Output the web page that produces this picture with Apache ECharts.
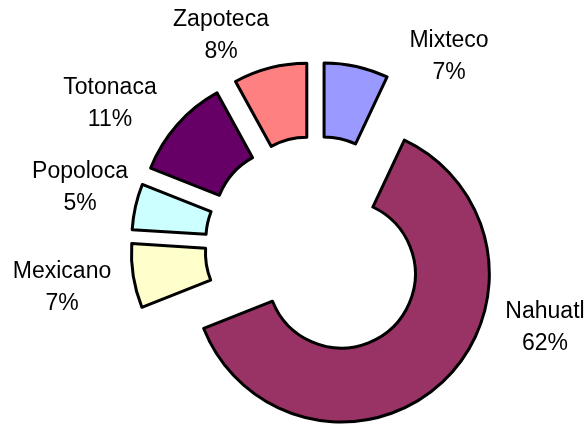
<!DOCTYPE html>
<html>
<head>
<meta charset="utf-8">
<script src="https://cdn.jsdelivr.net/npm/echarts@6/dist/echarts.min.js"></script>
<style>
	html, body { margin: 0; padding: 0; background: #fff; }
	#main { width: 588px; height: 425px; }
</style>
</head>
<body>
<div id="main"></div>
<script>
// 数据
var names = ['Mixteco', 'Nahuatl', 'Mexicano', 'Popoloca', 'Totonaca', 'Zapoteca'];
var values = [7, 62, 7, 5, 11, 8];

// 颜色 / 标签位置 (样式)
var colorList = ['#9999FF', '#993366', '#FFFFCC', '#CCFFFF', '#660066', '#FF8080'];
var labelPos = [[449, 57], [545, 328], [62, 288], [80, 188], [110, 104], [221, 36]];

var myChart = echarts.init(document.getElementById('main'));

var total = values.reduce(function(a, b) { return a + b; }, 0);

var pieData = names.map(function(n, i) {
	return {
		name: n,
		value: values[i],
		selected: true,
		itemStyle: { color: colorList[i] }
	};
});

// 标签: 名称 + 百分比, 手动放置 (类似原图)
var labels = names.map(function(n, i) {
	return {
		type: 'text',
		x: labelPos[i][0],
		y: labelPos[i][1],
		silent: true,
		style: {
			text: n + '\n' + Math.round(values[i] / total * 100) + '%',
			fill: '#000',
			fontFamily: 'Liberation Sans, Arial, sans-serif',
			fontSize: 23,
			lineHeight: 32,
			align: 'center',
			verticalAlign: 'middle'
		}
	};
});

var option = {
	animation: false,
	graphic: labels,
	series: [
		{
			name: 'lenguas',
			type: 'pie',
			center: [316, 247],
			radius: [74, 148],
			startAngle: 90,
			clockwise: true,
			selectedMode: 'multiple',
			selectedOffset: 37,
			emphasis: { disabled: true },
			itemStyle: {
				borderColor: '#000',
				borderWidth: 3
			},
			label: { show: false },
			labelLine: { show: false },
			data: pieData
		}
	]
};
myChart.setOption(option);
</script>
</body>
</html>
